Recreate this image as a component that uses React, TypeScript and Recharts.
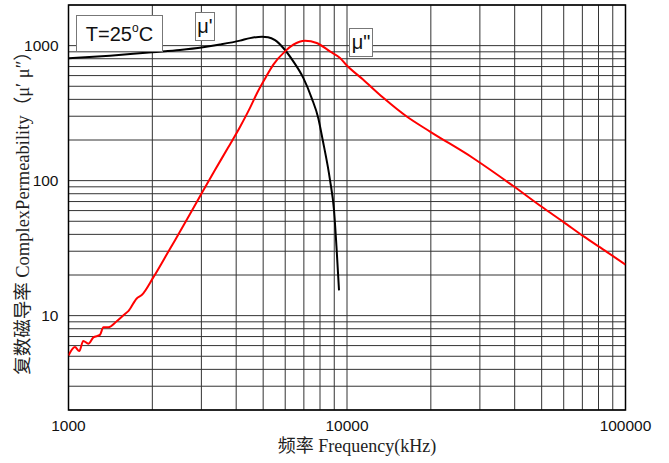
import { LineChart, Line, XAxis, YAxis, CartesianGrid, ReferenceArea } from "recharts"

const muRealFreq = [1000, 1409, 1994, 2513, 3041, 3499, 4128, 4484, 4953, 5204, 5514, 5906, 6415, 6967, 7468, 7888, 8180, 8690, 8981, 9183, 9361]
const muRealVal = [805, 843, 895, 928, 972, 1019, 1089, 1137, 1166, 1156, 1098, 961, 765, 577, 409, 290, 200, 101, 60.5, 30.5, 15.4]

// μ'' (imaginary part)
const muImagFreq = [1000, 1055, 1093, 1130, 1178, 1228, 1297, 1334, 1390, 1490, 1595, 1640, 1758, 1832, 2016, 2315, 2413, 2731, 3008, 3357, 3738, 4128, 4484, 4741, 5077, 5439, 5990, 6415, 7068, 7785, 8680, 9439, 9970, 11417, 13501, 16386, 19861, 28415, 39547, 50025, 59799, 70550, 85600, 100000]
const muImagVal = [5.07, 5.85, 5.46, 6.5, 6.2, 6.9, 7.2, 8.2, 8.2, 9.1, 10.3, 10.8, 13.4, 14.2, 19.2, 31.3, 36.2, 56.5, 80.6, 120, 175, 250, 346, 440, 569, 723, 907, 1017, 1089, 1047, 907, 810, 716, 561, 411, 298.5, 231, 146.6, 91.2, 64, 49.5, 38.8, 29.7, 23.9]

const xTicks = [1000, 2000, 3000, 4000, 5000, 6000, 7000, 8000, 9000, 10000, 20000, 30000, 40000, 50000, 60000, 70000, 80000, 90000, 100000]
const xLabels = [1000, 10000, 100000]
const yTicks = [2, 3, 4, 5, 6, 7, 8, 9, 10, 20, 30, 40, 50, 60, 70, 80, 90, 100, 200, 300, 400, 500, 600, 700, 800, 900, 1000, 2000]
const yLabels = [10, 100, 1000]

const xTitle = "频率 Frequency(kHz)"
const yTitle = "复数磁导率 ComplexPermeability（μ′  μ″）"

const muReal = muRealFreq.map((f, i) => ({ f, v: muRealVal[i] }))
const muImag = muImagFreq.map((f, i) => ({ f, v: muImagVal[i] }))

const titleFont = "'Liberation Serif', 'Noto Sans CJK SC', serif"
const tickFont = "'Liberation Sans', Arial, sans-serif"

const XTitle = (props: any) => {
  const vb = props.viewBox
  return (
    <text x={vb.x + vb.width / 2 + 10} y={452} textAnchor="middle" fontFamily={titleFont} fontSize={18} fill="#222">
      {xTitle}
    </text>
  )
}

const YTitle = (props: any) => {
  const vb = props.viewBox
  const cx = 23
  const cy = vb.y + vb.height / 2 + 1
  return (
    <text x={cx} y={cy} transform={`rotate(-90 ${cx} ${cy})`} textAnchor="middle" dominantBaseline="central" fontFamily={titleFont} fontSize={18.5} fill="#222">
      {yTitle}
    </text>
  )
}

const boxStyle = {
  position: "absolute" as const,
  background: "#fff",
  border: "1px solid #777",
  fontFamily: tickFont,
  color: "#111",
  display: "flex",
  alignItems: "center",
  justifyContent: "center",
  boxSizing: "border-box" as const,
}

export default function App() {
  return (
    <div style={{ position: "absolute", left: 0, top: 0, width: 669, height: 463, background: "#fff" }}>
      <LineChart width={669} height={463} margin={{ top: 5, right: 43.5, bottom: 0, left: 0 }}>
        <CartesianGrid stroke="#333" strokeWidth={1} />
        <XAxis
          dataKey="f"
          type="number"
          scale="log"
          domain={[1000, 100000]}
          ticks={xTicks}
          allowDataOverflow
          tickLine={false}
          axisLine={false}
          tickMargin={4}
          height={53}
          interval={0}
          tickFormatter={(t: number) => (xLabels.includes(t) ? String(t) : "")}
          tick={{ fill: "#111", fontSize: 15.5, fontFamily: tickFont }}
          label={<XTitle />}
        />
        <YAxis
          dataKey="v"
          type="number"
          scale="log"
          domain={[2, 2000]}
          ticks={yTicks}
          allowDataOverflow
          tickLine={false}
          axisLine={false}
          tickMargin={4}
          width={68.5}
          interval={0}
          tickFormatter={(t: number) => (yLabels.includes(t) ? String(t) : "")}
          tick={{ fill: "#111", fontSize: 15.5, fontFamily: tickFont }}
          label={<YTitle />}
        />
        <ReferenceArea x1={1000} x2={100000} y1={2} y2={2000} fill="none" stroke="#000" strokeWidth={1.5} ifOverflow="visible" />
        <Line data={muReal} dataKey="v" type="monotone" stroke="#000" strokeWidth={2} dot={false} isAnimationActive={false} />
        <Line data={muImag} dataKey="v" type="monotone" stroke="#ff0000" strokeWidth={2} dot={false} isAnimationActive={false} />
      </LineChart>
      <div style={{ ...boxStyle, left: 76, top: 15, width: 87, height: 37, fontSize: 20 }}>
        <span>T=25<sup style={{ fontSize: 12, position: "relative", top: -1 }}>o</sup>C</span>
      </div>
      <div style={{ ...boxStyle, left: 195, top: 12, width: 20, height: 29, fontSize: 20 }}>μ'</div>
      <div style={{ ...boxStyle, left: 349, top: 28, width: 24, height: 29, fontSize: 20 }}>μ"</div>
    </div>
  )
}
